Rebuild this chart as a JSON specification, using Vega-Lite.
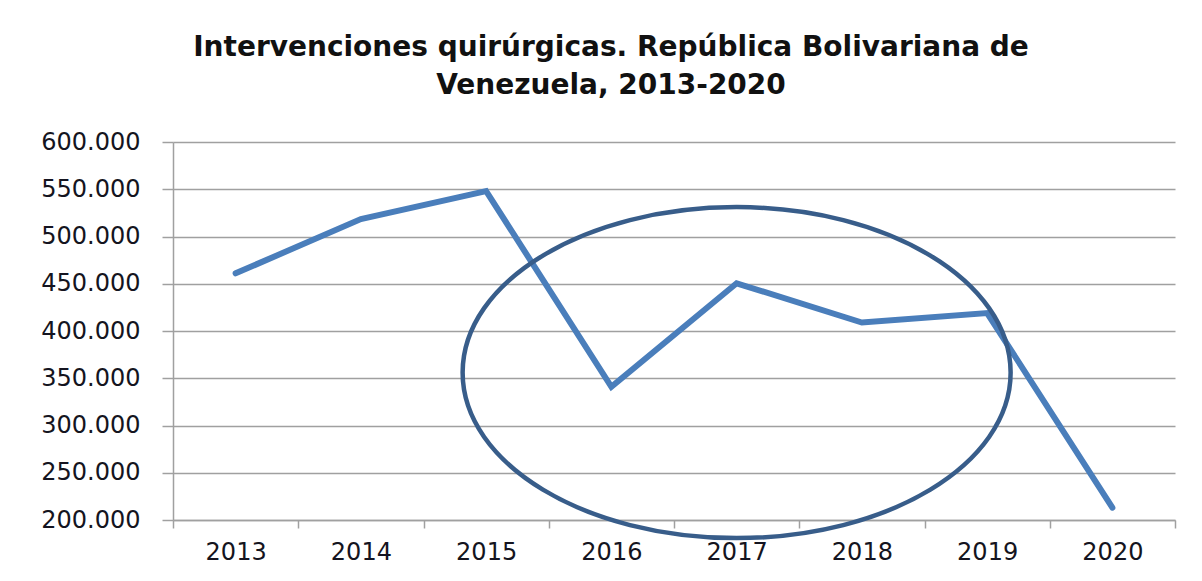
{
  "$schema": "https://vega.github.io/schema/vega-lite/v6.json",
  "autosize": {"type": "none"},
  "width": 1002,
  "height": 378,
  "padding": {"left": 173, "top": 142, "right": 27, "bottom": 61},
  "background": "white",
  "config": {
    "view": {"stroke": null},
    "locale": {"number": {"decimal": ",", "thousands": ".", "grouping": [3], "currency": ["", ""]}},
    "font": "DejaVu Sans"
  },
  "title": {
    "text": ["Intervenciones quirúrgicas. República Bolivariana de", "Venezuela, 2013-2020"],
    "font": "DejaVu Sans",
    "fontSize": 28,
    "fontWeight": "bold",
    "color": "#111111",
    "anchor": "middle",
    "frame": "group",
    "dx": -63,
    "offset": 30,
    "lineHeight": 38
  },
  "datasets": {
    "serie": [
      {"anio": "2013", "valor": 461000},
      {"anio": "2014", "valor": 518500},
      {"anio": "2015", "valor": 548000},
      {"anio": "2016", "valor": 341000},
      {"anio": "2017", "valor": 450500},
      {"anio": "2018", "valor": 409000},
      {"anio": "2019", "valor": 419000},
      {"anio": "2020", "valor": 213000}
    ],
    "elipse": [
      {"anio": "2017", "valor": 356000}
    ]
  },
  "encoding": {
    "x": {
      "field": "anio",
      "type": "ordinal",
      "scale": {"type": "band", "paddingInner": 0, "paddingOuter": 0, "domain": ["2013","2014","2015","2016","2017","2018","2019","2020"]},
      "axis": {
        "title": null,
        "tickBand": "extent",
        "labelAngle": 0,
        "labelFont": "DejaVu Sans",
        "labelFontSize": 24,
        "labelColor": "#141420",
        "labelPadding": 12,
        "tickSize": 8,
        "tickColor": "#a0a0a0",
        "tickWidth": 1.5,
        "domainColor": "#a0a0a0",
        "domainWidth": 1.5,
        "grid": false
      }
    },
    "y": {
      "field": "valor",
      "type": "quantitative",
      "scale": {"domain": [200000, 600000], "nice": false, "zero": false},
      "axis": {
        "title": null,
        "values": [200000, 250000, 300000, 350000, 400000, 450000, 500000, 550000, 600000],
        "format": ",.0f",
        "labelFont": "DejaVu Sans",
        "labelFontSize": 24,
        "labelColor": "#141420",
        "labelPadding": 22,
        "tickSize": 11,
        "tickColor": "#a0a0a0",
        "tickWidth": 1.5,
        "domainColor": "#a0a0a0",
        "domainWidth": 1.5,
        "grid": true,
        "gridColor": "#a0a0a0",
        "gridWidth": 1.5
      }
    }
  },
  "layer": [
    {
      "data": {"name": "serie"},
      "mark": {"type": "line", "color": "#4a7ebb", "strokeWidth": 6, "strokeCap": "round", "strokeJoin": "miter"}
    },
    {
      "data": {"name": "elipse"},
      "mark": {
        "type": "point",
        "filled": false,
        "opacity": 1,
        "stroke": "#385d8a",
        "strokeWidth": 4.5,
        "size": 300304,
        "shape": "M 1 0 C 1 0.3336 0.5523 0.604 0 0.604 C -0.5523 0.604 -1 0.3336 -1 0 C -1 -0.3336 -0.5523 -0.604 0 -0.604 C 0.5523 -0.604 1 -0.3336 1 0 Z"
      }
    }
  ]
}
